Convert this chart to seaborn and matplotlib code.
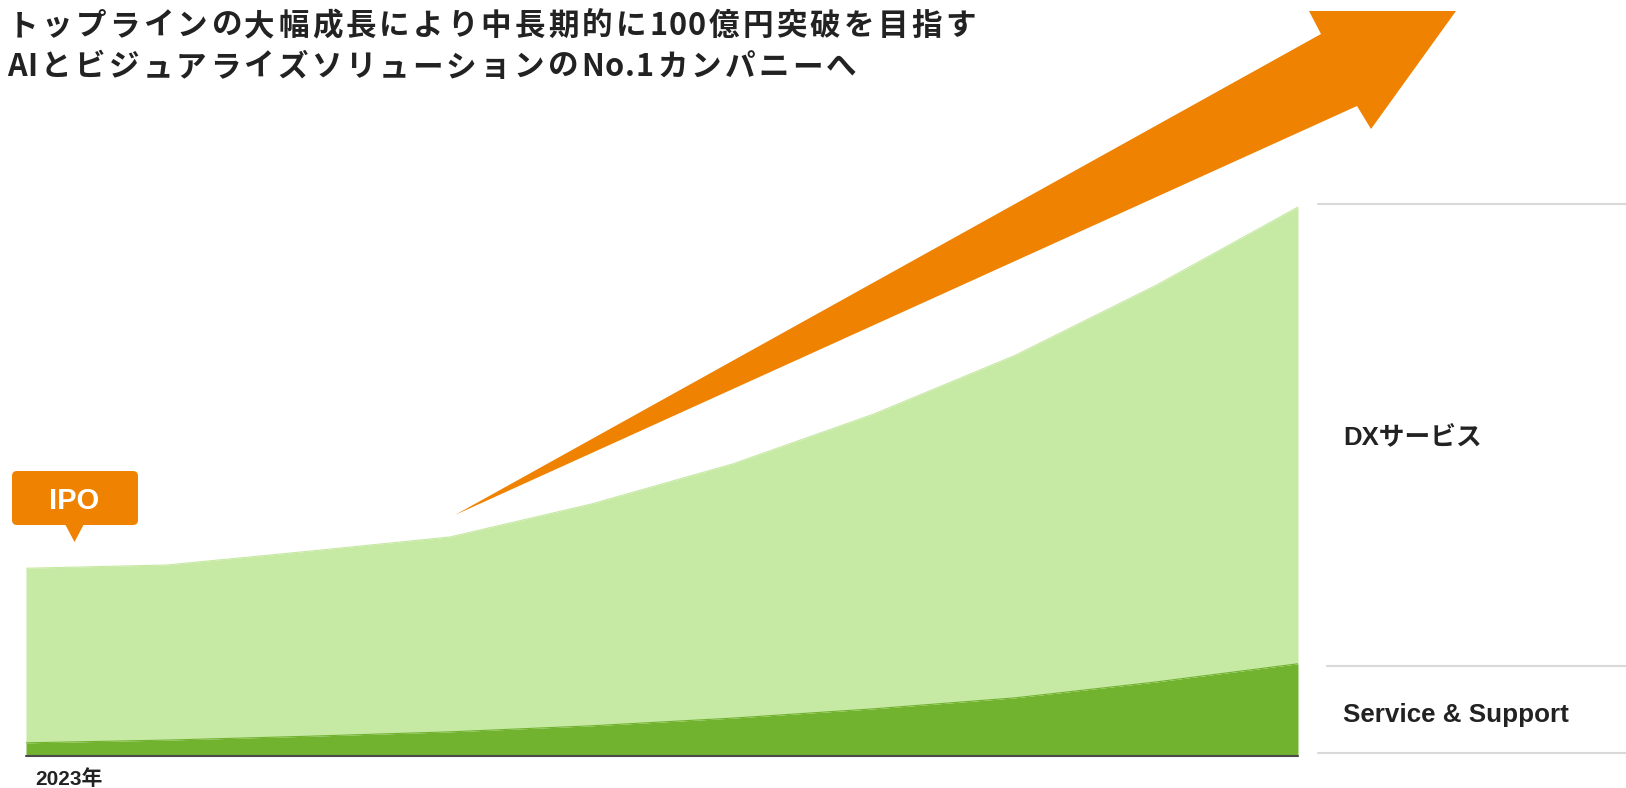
import numpy as np
import pandas as pd
import matplotlib
matplotlib.use("Agg")
import matplotlib.pyplot as plt
import matplotlib.font_manager as fm
from matplotlib.patches import Polygon, FancyBboxPatch
from matplotlib.lines import Line2D
import seaborn as sns

# ---------------- data ----------------
years = [2023, 2024, 2025, 2026, 2027, 2028, 2029, 2030, 2031, 2032]
service_support = [2.4, 2.9, 3.6, 4.4, 5.5, 6.9, 8.6, 10.6, 13.5, 16.8]
dx_service = [31.8, 31.9, 33.7, 35.5, 40.4, 46.3, 53.7, 62.4, 72.3, 83.2]
first_year_label = "2023年"
series_labels = ["DXサービス", "Service & Support"]
title_lines = ["トップラインの大幅成長により中長期的に100億円突破を目指す",
               "AIとビジュアライズソリューションのNo.1カンパニーへ"]
ipo_label = "IPO"

# ---------------- style ----------------
sns.set_theme(style="white")
plt.rcParams["font.family"] = ["Liberation Sans", "Noto Sans CJK JP", "DejaVu Sans"]

LIGHT = "#C6E9A3"
DARK = "#71B22E"
ORANGE = "#EF8200"
TEXT = "#222222"
GRAY = "#D9D9D9"

W, H = 1626, 788
fig = plt.figure(figsize=(W / 100, H / 100), dpi=100)
T = fig.dpi_scale_trans


def P(x, y):
    return (x / 100.0, (H - y) / 100.0)


# ---------------- area chart ----------------
ax = fig.add_axes([26 / W, (H - 756) / H, (1298 - 26) / W, 756 / H])
idx = np.arange(len(years))
df = pd.DataFrame({
    "idx": idx,
    "service": service_support,
    "total": np.array(service_support) + np.array(dx_service),
})
ax.fill_between(df["idx"], 0, df["service"], color=DARK, lw=0)
ax.fill_between(df["idx"], df["service"], df["total"], color=LIGHT, lw=0)
sns.lineplot(data=df, x="idx", y="total", color=LIGHT, linewidth=0.8, ax=ax)
sns.lineplot(data=df, x="idx", y="service", color=DARK, linewidth=0.8, ax=ax)
ax.set_xlim(idx[0], idx[-1])
ax.set_ylim(0, 756 / 5.49)
ax.axhline(0, color="#4a4a4a", lw=1.5, clip_on=False)
ax.axis("off")

# ---------------- arrow ----------------
arrow_pts = [(455, 515), (1321, 34), (1309, 11), (1456, 11), (1371, 129), (1357, 106)]
fig.add_artist(Polygon([P(*p) for p in arrow_pts], closed=True, transform=T,
                       facecolor=ORANGE, edgecolor="none"))

# ---------------- IPO callout ----------------
bx0, by0, bx1, by1 = 12, 471, 138, 525
fig.add_artist(FancyBboxPatch(P(bx0, by1), (bx1 - bx0) / 100, (by1 - by0) / 100,
                              boxstyle="round,pad=0,rounding_size=0.05",
                              transform=T, facecolor=ORANGE, edgecolor="none"))
fig.add_artist(Polygon([P(65, 524), P(84, 524), P(74.5, 542)], closed=True,
                       transform=T, facecolor=ORANGE, edgecolor="none"))
fig.text(*P(74, 509), ipo_label, transform=T, ha="center", va="baseline",
         fontsize=21, fontweight="bold", color="white",
         family=["Liberation Sans", "DejaVu Sans"])

# ---------------- right side labels & rules ----------------
for (xs, y) in [(1318, 204), (1327, 666), (1318, 753)]:
    fig.add_artist(Line2D([xs / 100, W / 100], [(H - y) / 100, (H - y) / 100],
                          transform=T, color=GRAY, lw=1.5))
fig.text(*P(1343, 445), series_labels[0], transform=T, ha="left", va="baseline",
         fontsize=18.5, fontweight="bold", color=TEXT)
fig.text(*P(1343, 722), series_labels[1], transform=T, ha="left", va="baseline",
         fontsize=18.7, fontweight="bold", color=TEXT)

# ---------------- year label ----------------
fig.text(*P(35, 785), first_year_label, transform=T, ha="left", va="baseline",
         fontsize=15, fontweight="bold", color=TEXT)

# ---------------- title with letter spacing ----------------
TITLE_SIZE = 22
try:
    from matplotlib.ft2font import FT2Font
    _path = fm.findfont(fm.FontProperties(family="Noto Sans CJK JP", weight="bold"))
    _font = FT2Font(_path)
    _font.set_size(TITLE_SIZE, 100)

    def advance(c):
        return _font.load_char(ord(c)).linearHoriAdvance / 65536.0
except Exception:
    def advance(c):
        em = TITLE_SIZE * 100 / 72.0
        return em * (0.58 if c.isascii() else 1.0)


def spaced_text(s, x0, baseline, gap_cjk=3.2, gap_ascii=1.0):
    x = x0
    for i, c in enumerate(s):
        a = advance(c)
        fig.text(*P(x + a / 2.0, baseline), c, transform=T, ha="center",
                 va="baseline", fontsize=TITLE_SIZE, fontweight="bold",
                 color=TEXT, family=["Noto Sans CJK JP", "DejaVu Sans"])
        nxt = s[i + 1] if i + 1 < len(s) else ""
        x += a + (gap_ascii if (c.isascii() and nxt.isascii()) else gap_cjk)


spaced_text(title_lines[0], 8, 35)
spaced_text(title_lines[1], 7, 76)

fig.savefig("out.png", dpi=100)
